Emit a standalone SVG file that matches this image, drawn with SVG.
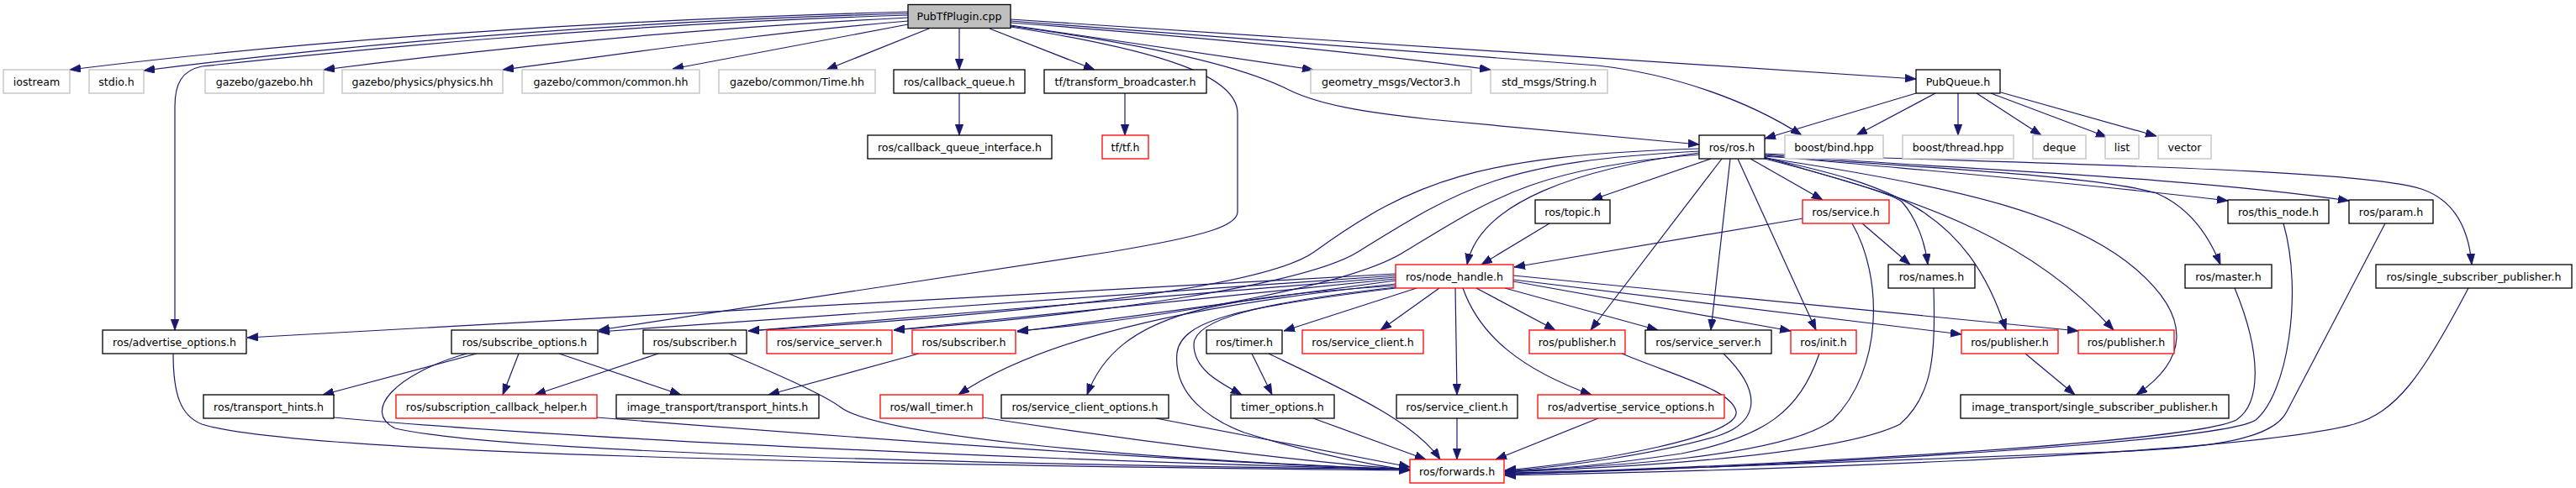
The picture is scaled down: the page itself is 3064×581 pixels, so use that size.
<svg xmlns="http://www.w3.org/2000/svg" width="3064" height="581" viewBox="0 0 3064 581">
<style>
.n rect{fill:#fff;stroke:#000;stroke-width:1.3}
.n.g rect{stroke:#bfbfbf}
.n.r rect{stroke:#ff0000}
.n.root rect{fill:#bfbfbf}
.n text{font-family:"DejaVu Sans","Liberation Sans",sans-serif;font-size:12.6px;text-anchor:middle;fill:#000}
#edges path{fill:none;stroke:#191970;stroke-width:1.2;marker-end:url(#a)}
</style>
<defs>
<marker id="a" markerWidth="14" markerHeight="10" refX="13" refY="4.75" orient="auto" markerUnits="userSpaceOnUse"><path d="M0,0 L13,4.75 L0,9.5 z" fill="#191970" stroke="#191970" stroke-width="0.8"/></marker>
</defs>
<rect width="3064" height="581" fill="#fff"/>
<g id="edges">
<path d="M1080,14 C700,24 350,50 83,83"/>
<path d="M1080,16 C700,27 400,55 171,84"/>
<path d="M1080,18 C700,30 400,62 240,79 C216,84 208,100 208,127 L208,393"/>
<path d="M1080,21 C800,35 550,62 385,83"/>
<path d="M1080,25 C900,40 750,63 598,83"/>
<path d="M1080,29 L800,82"/>
<path d="M1105,34 L983,83"/>
<path d="M1141,34 L1141,83"/>
<path d="M1177,34 L1302,83"/>
<path d="M1202,30 L1562,83"/>
<path d="M1202,27 C1400,42 1600,60 1773,83"/>
<path d="M1202,23 L2279,94"/>
<path d="M1202,25 L1900,78 C1990,88 2080,120 2143,161"/>
<path d="M1202,31 C1380,55 1480,80 1533,107 C1570,125 1620,133 1700,142 L2021,172"/>
<path d="M1202,32 C1380,60 1472,90 1472,135 L1472,252 C1472,268 1440,280 1320,300 L712,393"/>
<path d="M2279,111 L2099,165"/>
<path d="M2302,111 L2208,161"/>
<path d="M2329,111 L2329,161"/>
<path d="M2351,111 L2428,161"/>
<path d="M2368,111 L2506,163"/>
<path d="M2380,110 L2565,162"/>
<path d="M1141,111 L1141,161"/>
<path d="M1338,111 L1338,161"/>
<path d="M2035,189 L1893,238"/>
<path d="M2082,189 L2168,238"/>
<path d="M2021,182 C1880,200 1760,240 1745,315"/>
<path d="M2021,177 C1760,185 1680,215 1563,300 C1500,345 1200,375 890,394"/>
<path d="M2021,180 C1790,192 1740,222 1615,300 C1550,340 1300,375 1063,393"/>
<path d="M2021,184 C1820,200 1770,240 1670,300 C1610,338 1400,378 1210,394"/>
<path d="M2099,187 C2180,212 2245,228 2262,240 C2280,260 2290,290 2293,315"/>
<path d="M2099,185 C2250,200 2450,215 2650,239"/>
<path d="M2099,184 C2300,200 2600,210 2794,239"/>
<path d="M2099,183 C2400,195 2800,200 2880,225 C2925,240 2937,280 2940,315"/>
<path d="M2099,186 C2300,200 2500,210 2565,230 C2600,245 2625,275 2641,315"/>
<path d="M2099,188 C2350,225 2470,260 2540,320 C2610,380 2600,430 2541,470"/>
<path d="M2099,189 C2300,240 2420,290 2514,393"/>
<path d="M2099,188 C2250,220 2340,250 2386,393"/>
<path d="M2067,189 L2160,393"/>
<path d="M2058,189 L2035,393"/>
<path d="M2048,189 L1892,393"/>
<path d="M2145,260 L1801,318"/>
<path d="M2215,266 L2272,315"/>
<path d="M2203,266 C2240,330 2240,440 2180,500 C2120,545 1900,556 1790,561"/>
<path d="M1843,266 L1762,315"/>
<path d="M1660,326 L294,402"/>
<path d="M1660,328 L712,395"/>
<path d="M1660,330 L890,394"/>
<path d="M1660,332 L1063,393"/>
<path d="M1660,334 L1210,395"/>
<path d="M1660,338 C1450,360 1250,395 1140,470"/>
<path d="M1660,340 C1450,355 1330,370 1293,470"/>
<path d="M1660,342 C1500,360 1420,380 1420,410 C1420,440 1450,455 1477,470"/>
<path d="M1660,343 C1480,365 1405,380 1400,420 C1395,470 1440,500 1480,515 C1560,540 1620,552 1677,560"/>
<path d="M1685,343 L1527,394"/>
<path d="M1712,343 L1642,393"/>
<path d="M1731,343 L1733,470"/>
<path d="M1740,343 C1760,400 1810,440 1893,470"/>
<path d="M1756,343 L1850,393"/>
<path d="M1790,343 L1972,393"/>
<path d="M1800,335 L2130,394"/>
<path d="M1800,333 L2333,398"/>
<path d="M1800,328 L2472,394"/>
<path d="M567,421 L384,470"/>
<path d="M617,421 L598,470"/>
<path d="M665,421 L810,470"/>
<path d="M555,421 C470,445 430,490 470,510 C600,540 1200,553 1677,559"/>
<path d="M206,421 C206,470 215,495 240,505 C350,540 1000,553 1677,560"/>
<path d="M397,497 C700,525 1300,550 1677,559"/>
<path d="M710,497 C1000,520 1400,550 1677,559"/>
<path d="M783,421 L636,470"/>
<path d="M867,421 C930,448 980,470 1000,485 C1040,515 1300,545 1677,559"/>
<path d="M1093,421 L914,470"/>
<path d="M1169,497 C1350,525 1550,550 1677,559"/>
<path d="M1375,498 L1677,556"/>
<path d="M1562,498 L1696,547"/>
<path d="M1489,421 L1513,470"/>
<path d="M1509,421 C1600,465 1680,500 1713,547"/>
<path d="M1733,498 L1733,547"/>
<path d="M1901,498 L1779,547"/>
<path d="M1929,421 C2000,450 2060,465 2065,490 C2070,520 1900,550 1790,560"/>
<path d="M2050,421 C2100,470 2090,505 2040,520 C1970,540 1870,555 1790,561"/>
<path d="M2164,421 C2140,490 2100,520 2000,540 C1900,555 1830,560 1790,561"/>
<path d="M2300,343 C2302,420 2300,470 2260,505 C2180,545 1900,558 1790,562"/>
<path d="M2658,343 C2690,420 2690,480 2660,500 C2600,530 2000,560 1790,563"/>
<path d="M2716,266 C2740,350 2720,470 2683,500 C2640,530 2000,561 1790,564"/>
<path d="M2837,266 L2720,490 C2700,530 2600,535 2460,540 C2200,550 1900,563 1790,565"/>
<path d="M2936,343 C2880,450 2850,490 2800,505 C2650,545 2000,562 1790,566"/>
<path d="M2409,421 L2468,470"/>
</g>
<g id="n0" class="n root"><rect x="1080" y="5.5" width="122" height="28"/><text x="1141" y="24">PubTfPlugin.cpp</text></g>
<g id="n1" class="n g"><rect x="4" y="83" width="79" height="28"/><text x="43.5" y="101.5">iostream</text></g>
<g id="n2" class="n g"><rect x="106" y="83" width="65" height="28"/><text x="138.5" y="101.5">stdio.h</text></g>
<g id="n3" class="n g"><rect x="244" y="83" width="141" height="28"/><text x="314.5" y="101.5">gazebo/gazebo.hh</text></g>
<g id="n4" class="n g"><rect x="407" y="83" width="191" height="28"/><text x="502.5" y="101.5">gazebo/physics/physics.hh</text></g>
<g id="n5" class="n g"><rect x="621" y="83" width="211" height="28"/><text x="726.5" y="101.5">gazebo/common/common.hh</text></g>
<g id="n6" class="n g"><rect x="855" y="83" width="186" height="28"/><text x="948" y="101.5">gazebo/common/Time.hh</text></g>
<g id="n7" class="n"><rect x="1063" y="83" width="156" height="28"/><text x="1141" y="101.5">ros/callback_queue.h</text></g>
<g id="n8" class="n"><rect x="1242" y="83" width="193" height="28"/><text x="1338.5" y="101.5">tf/transform_broadcaster.h</text></g>
<g id="n9" class="n g"><rect x="1559" y="83" width="191" height="28"/><text x="1654.5" y="101.5">geometry_msgs/Vector3.h</text></g>
<g id="n10" class="n g"><rect x="1773" y="83" width="139" height="28"/><text x="1842.5" y="101.5">std_msgs/String.h</text></g>
<g id="n11" class="n"><rect x="2279" y="83" width="100" height="28"/><text x="2329" y="101.5">PubQueue.h</text></g>
<g id="n12" class="n"><rect x="1032" y="161" width="219" height="28"/><text x="1141.5" y="179.5">ros/callback_queue_interface.h</text></g>
<g id="n13" class="n r"><rect x="1311" y="161" width="55" height="28"/><text x="1338.5" y="179.5">tf/tf.h</text></g>
<g id="n14" class="n"><rect x="2021" y="161" width="78" height="28"/><text x="2060" y="179.5">ros/ros.h</text></g>
<g id="n15" class="n g"><rect x="2123" y="161" width="117" height="28"/><text x="2181.5" y="179.5">boost/bind.hpp</text></g>
<g id="n16" class="n g"><rect x="2263" y="161" width="132" height="28"/><text x="2329" y="179.5">boost/thread.hpp</text></g>
<g id="n17" class="n g"><rect x="2418" y="161" width="63" height="28"/><text x="2449.5" y="179.5">deque</text></g>
<g id="n18" class="n g"><rect x="2504" y="161" width="40" height="28"/><text x="2524" y="179.5">list</text></g>
<g id="n19" class="n g"><rect x="2567" y="161" width="63" height="28"/><text x="2598.5" y="179.5">vector</text></g>
<g id="n20" class="n"><rect x="1826" y="238" width="89" height="28"/><text x="1870.5" y="256.5">ros/topic.h</text></g>
<g id="n21" class="n r"><rect x="2144" y="238" width="103" height="28"/><text x="2195.5" y="256.5">ros/service.h</text></g>
<g id="n22" class="n"><rect x="2650" y="238" width="120" height="28"/><text x="2710" y="256.5">ros/this_node.h</text></g>
<g id="n23" class="n"><rect x="2794" y="238" width="100" height="28"/><text x="2844" y="256.5">ros/param.h</text></g>
<g id="n24" class="n r"><rect x="1660" y="315" width="140" height="28"/><text x="1730" y="333.5">ros/node_handle.h</text></g>
<g id="n25" class="n"><rect x="2246" y="315" width="103" height="28"/><text x="2297.5" y="333.5">ros/names.h</text></g>
<g id="n26" class="n"><rect x="2599" y="315" width="103" height="28"/><text x="2650.5" y="333.5">ros/master.h</text></g>
<g id="n27" class="n"><rect x="2826" y="315" width="233" height="28"/><text x="2942.5" y="333.5">ros/single_subscriber_publisher.h</text></g>
<g id="n28" class="n"><rect x="122" y="393" width="171" height="28"/><text x="207.5" y="411.5">ros/advertise_options.h</text></g>
<g id="n29" class="n"><rect x="537" y="393" width="174" height="28"/><text x="624" y="411.5">ros/subscribe_options.h</text></g>
<g id="n30" class="n"><rect x="765" y="393" width="123" height="28"/><text x="826.5" y="411.5">ros/subscriber.h</text></g>
<g id="n31" class="n r"><rect x="912" y="393" width="149" height="28"/><text x="986.5" y="411.5">ros/service_server.h</text></g>
<g id="n32" class="n r"><rect x="1085" y="393" width="123" height="28"/><text x="1146.5" y="411.5">ros/subscriber.h</text></g>
<g id="n33" class="n"><rect x="1435" y="393" width="90" height="28"/><text x="1480" y="411.5">ros/timer.h</text></g>
<g id="n34" class="n r"><rect x="1549" y="393" width="144" height="28"/><text x="1621" y="411.5">ros/service_client.h</text></g>
<g id="n35" class="n r"><rect x="1819" y="393" width="114" height="28"/><text x="1876" y="411.5">ros/publisher.h</text></g>
<g id="n36" class="n"><rect x="1957" y="393" width="150" height="28"/><text x="2032" y="411.5">ros/service_server.h</text></g>
<g id="n37" class="n r"><rect x="2130" y="393" width="78" height="28"/><text x="2169" y="411.5">ros/init.h</text></g>
<g id="n38" class="n r"><rect x="2333" y="393" width="115" height="28"/><text x="2390.5" y="411.5">ros/publisher.h</text></g>
<g id="n39" class="n r"><rect x="2472" y="393" width="114" height="28"/><text x="2529" y="411.5">ros/publisher.h</text></g>
<g id="n40" class="n"><rect x="242" y="470" width="155" height="28"/><text x="319.5" y="488.5">ros/transport_hints.h</text></g>
<g id="n41" class="n r"><rect x="471" y="470" width="239" height="28"/><text x="590.5" y="488.5">ros/subscription_callback_helper.h</text></g>
<g id="n42" class="n"><rect x="733" y="470" width="241" height="28"/><text x="853.5" y="488.5">image_transport/transport_hints.h</text></g>
<g id="n43" class="n r"><rect x="1047" y="470" width="122" height="28"/><text x="1108" y="488.5">ros/wall_timer.h</text></g>
<g id="n44" class="n"><rect x="1191" y="470" width="199" height="28"/><text x="1290.5" y="488.5">ros/service_client_options.h</text></g>
<g id="n45" class="n"><rect x="1464" y="470" width="123" height="28"/><text x="1525.5" y="488.5">timer_options.h</text></g>
<g id="n46" class="n"><rect x="1661" y="470" width="144" height="28"/><text x="1733" y="488.5">ros/service_client.h</text></g>
<g id="n47" class="n r"><rect x="1829" y="470" width="222" height="28"/><text x="1940" y="488.5">ros/advertise_service_options.h</text></g>
<g id="n48" class="n"><rect x="2332" y="470" width="319" height="28"/><text x="2491.5" y="488.5">image_transport/single_subscriber_publisher.h</text></g>
<g id="n49" class="n r"><rect x="1677" y="547" width="112" height="28"/><text x="1733" y="565.5">ros/forwards.h</text></g>
</svg>
